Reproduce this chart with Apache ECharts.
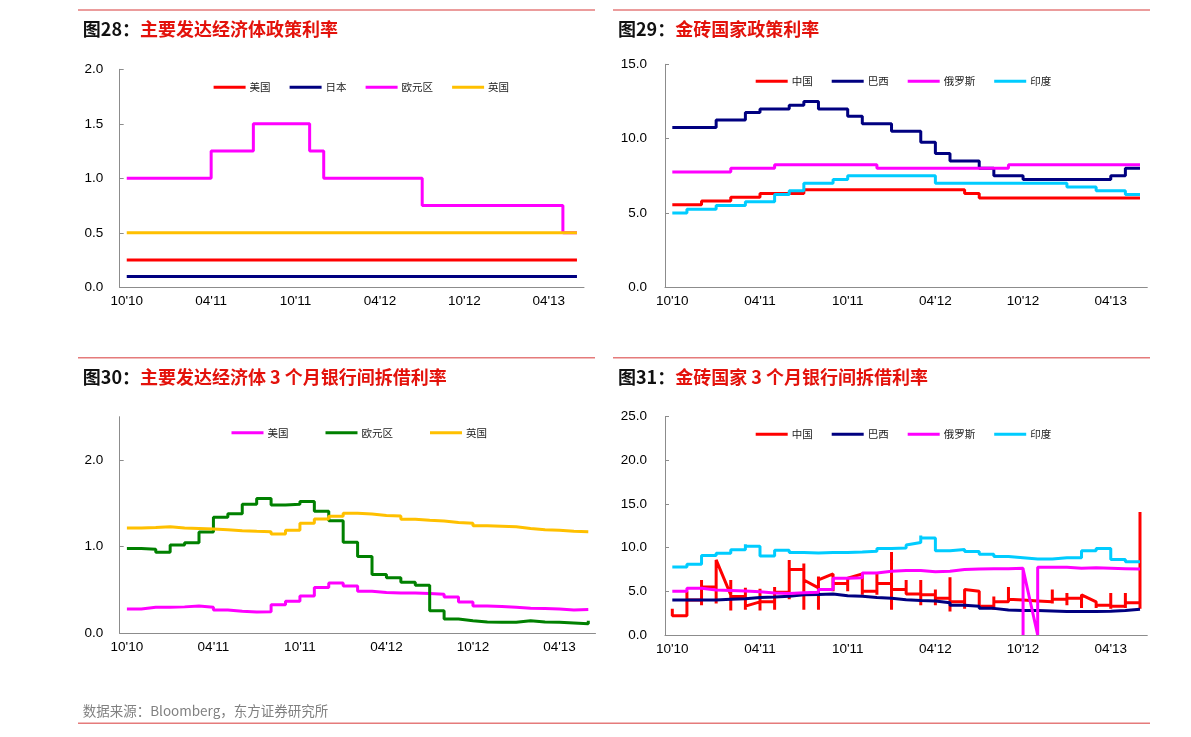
<!DOCTYPE html>
<html><head><meta charset="utf-8">
<script src="https://cdn.jsdelivr.net/npm/echarts@6/dist/echarts.min.js"></script>
<style>html,body{margin:0;padding:0;background:#fff}#c{width:1191px;height:737px}</style>
</head><body><div id="c"></div>
<script>
// month categories (Oct 2010 .. Jun 2013)
const months = ["10'10","11'10","12'10","01'11","02'11","03'11","04'11","05'11","06'11","07'11","08'11","09'11","10'11","11'11","12'11","01'12","02'12","03'12","04'12","05'12","06'12","07'12","08'12","09'12","10'12","11'12","12'12","01'13","02'13","03'13","04'13","05'13","06'13"];

// 图28 主要发达经济体政策利率
const p28_us = [0.25,0.25,0.25,0.25,0.25,0.25,0.25,0.25,0.25,0.25,0.25,0.25,0.25,0.25,0.25,0.25,0.25,0.25,0.25,0.25,0.25,0.25,0.25,0.25,0.25,0.25,0.25,0.25,0.25,0.25,0.25,0.25,0.25];
const p28_jp = [0.1,0.1,0.1,0.1,0.1,0.1,0.1,0.1,0.1,0.1,0.1,0.1,0.1,0.1,0.1,0.1,0.1,0.1,0.1,0.1,0.1,0.1,0.1,0.1,0.1,0.1,0.1,0.1,0.1,0.1,0.1,0.1,0.1];
const p28_ez = [1,1,1,1,1,1,1.25,1.25,1.25,1.5,1.5,1.5,1.5,1.25,1,1,1,1,1,1,1,0.75,0.75,0.75,0.75,0.75,0.75,0.75,0.75,0.75,0.75,0.5,0.5];
const p28_uk = [0.5,0.5,0.5,0.5,0.5,0.5,0.5,0.5,0.5,0.5,0.5,0.5,0.5,0.5,0.5,0.5,0.5,0.5,0.5,0.5,0.5,0.5,0.5,0.5,0.5,0.5,0.5,0.5,0.5,0.5,0.5,0.5,0.5];

// 图29 金砖国家政策利率
const p29_cn = [5.56,5.56,5.81,5.81,6.06,6.06,6.31,6.31,6.31,6.56,6.56,6.56,6.56,6.56,6.56,6.56,6.56,6.56,6.56,6.56,6.31,6.0,6.0,6.0,6.0,6.0,6.0,6.0,6.0,6.0,6.0,6.0,6.0];
const p29_br = [10.75,10.75,10.75,11.25,11.25,11.75,12.0,12.0,12.25,12.5,12.0,12.0,11.5,11.0,11.0,10.5,10.5,9.75,9.0,8.5,8.5,8.0,7.5,7.5,7.25,7.25,7.25,7.25,7.25,7.25,7.5,8.0,8.0];
const p29_ru = [7.75,7.75,7.75,7.75,8.0,8.0,8.0,8.25,8.25,8.25,8.25,8.25,8.25,8.25,8.0,8.0,8.0,8.0,8.0,8.0,8.0,8.0,8.0,8.25,8.25,8.25,8.25,8.25,8.25,8.25,8.25,8.25,8.25];
const p29_in = [5.0,5.25,5.25,5.5,5.5,5.75,5.75,6.25,6.5,7.0,7.0,7.25,7.5,7.5,7.5,7.5,7.5,7.5,7.0,7.0,7.0,7.0,7.0,7.0,7.0,7.0,7.0,6.75,6.75,6.5,6.5,6.25,6.25];

// 图30 主要发达经济体3个月银行间拆借利率
const p30_us = [0.28,0.30,0.30,0.305,0.315,0.30,0.27,0.255,0.245,0.25,0.33,0.37,0.43,0.53,0.58,0.545,0.485,0.47,0.465,0.465,0.46,0.45,0.42,0.36,0.315,0.31,0.30,0.29,0.285,0.28,0.27,0.275,0.275];
const p30_ez = [0.98,0.97,0.935,1.02,1.045,1.17,1.34,1.38,1.49,1.555,1.48,1.49,1.52,1.41,1.30,1.05,0.885,0.68,0.64,0.59,0.555,0.26,0.165,0.146,0.13,0.127,0.127,0.146,0.13,0.127,0.12,0.11,0.145];
const p30_uk = [1.215,1.22,1.23,1.215,1.21,1.205,1.196,1.185,1.177,1.173,1.146,1.19,1.27,1.32,1.35,1.385,1.377,1.36,1.355,1.315,1.304,1.296,1.28,1.27,1.24,1.235,1.23,1.21,1.196,1.19,1.177,1.173,1.173];

// 图31 金砖国家3个月银行间拆借利率 (a list = values met inside that month, in order)
const p31_cn = [[3.0,2.2],[2.2,5.0,4.0],[4.0,3.4,6.3,5.5],[5.5,3.6,8.6,8.4],[4.6,6.3,2.8,4.4],[4.4,5.4,2.9,3.3],[3.8,5.3,2.8,3.8],[3.8,2.9,5.5,4.9],[4.9,4.1,8.6,7.5],[7.5,8.2,2.9,6.3],[5.4,2.9,6.7,6.3],[7.0,5.0,5.9],[5.9,5.0,6.5,6.3],[7.0,4.6,5.0],[5.0,4.6,7.2,5.9],[5.9,9.5,2.9,5.2],[5.2,6.3,4.7],[4.7,6.3,3.4,4.6],[4.6,5.2,3.4,4.2],[4.2,6.6,2.7,3.8],[3.8,3.0,5.2,5.0],[5.0,3.3],[3.3,2.9,4.4,3.8],[3.8,5.5,4.1],[4.0],[3.9],[3.8,5.2,3.6,4.1],[4.1,3.4,4.8,4.2],[4.2,3.1,4.6,4.4],[3.8,3.1,3.4],[3.4,4.8,3.0,3.3],[3.3,4.8,3.1,3.7],[3.7,3.0,14.1]];
const p31_br = [4.0,4.0,4.0,4.1,4.15,4.3,4.35,4.45,4.6,4.65,4.7,4.5,4.45,4.3,4.2,4.05,3.95,3.9,3.7,3.4,3.3,3.05,2.85,2.8,2.8,2.75,2.7,2.7,2.7,2.72,2.8,2.95,2.95];
const p31_ru = [5.0,5.35,5.15,5.1,5.05,4.95,4.8,4.75,4.85,4.9,5.2,6.5,6.55,7.1,7.3,7.4,7.4,7.25,7.3,7.5,7.55,7.6,7.6,7.65,[7.65,0,7.55],[0,7.75],7.75,7.65,7.7,7.65,7.6,7.55,7.55];
const p31_in = [7.8,8.1,9.1,9.35,9.75,[9.75,10.4,10.15],9.05,9.7,9.45,9.4,9.45,9.45,9.5,9.6,9.9,9.95,[9.95,10.3],[10.6,11.4,11.1],9.65,9.8,9.55,9.25,9.0,8.85,8.7,8.7,8.85,8.85,9.65,9.9,8.65,8.4,8.4];

const CJK = '"Noto Sans CJK SC", sans-serif';
const LAT = '"Liberation Sans", Arial, sans-serif';

function build(arr){
  const pts=[]; let prev=null;
  arr.forEach((m,i)=>{
    if(Array.isArray(m)){ m.forEach(v=>pts.push([i,v])); prev=m[m.length-1]; }
    else { if(prev!==null && prev!==m) pts.push([i,prev]); pts.push([i,m]); prev=m; }
  });
  return pts;
}
function line(name, gi, data, color, step){
  return {type:'line', name, xAxisIndex:gi, yAxisIndex:gi, data, step: step?'end':false, color,
    symbol:'none', showSymbol:false, lineStyle:{width:3,color}, itemStyle:{color},
    animation:false, silent:true, z:2};
}
const axisGray = '#8c8c8c';
function xAx(gi){
  return {type:'category', gridIndex:gi, data:months, boundaryGap:true,
    axisLine:{lineStyle:{color:axisGray,width:1}},
    axisTick:{inside:true,length:4,interval:5,lineStyle:{color:axisGray}},
    axisLabel:{interval:5,margin:7,color:'#000',fontSize:13.5,fontFamily:LAT},
    splitLine:{show:false}};
}
function yAx(gi,max,interval,margin,extra){
  const o = {type:'value', gridIndex:gi, min:0, max, interval,
    axisLine:{show:true,lineStyle:{color:axisGray,width:1}},
    axisTick:{show:true,inside:true,length:4,lineStyle:{color:axisGray}},
    axisLabel:{margin,color:'#000',fontSize:13.5,fontFamily:LAT,formatter:v=>v.toFixed(1)},
    splitLine:{show:false}};
  if(extra){ Object.assign(o.axisTick, extra.tick); Object.assign(o.axisLabel, extra.label); }
  return o;
}
function legend(names, left, top, gap){
  return {data:names, left, top, padding:0, itemGap:gap, icon:'rect', itemWidth:32, itemHeight:3,
    selectedMode:false, formatter:n=>n.split('_')[1],
    textStyle:{fontSize:10.5,color:'#222',fontFamily:CJK,padding:[0,0,0,-1]}};
}
function title(num, text, left, top){
  return {text:'{a|图'+num+'：}{b|'+text+'}', left, top, padding:0,
    textStyle:{rich:{a:{fontSize:18,color:'#111',fontFamily:CJK,lineHeight:20},
                     b:{fontSize:18,color:'#E3120B',fontWeight:'bold',fontFamily:CJK,lineHeight:20}}}};
}
const sep = '#E57B7B';
const option = {
  backgroundColor:'#fff',
  animation:false,
  title:[
    title('28','主要发达经济体政策利率',82.8,19.5),
    title('29','金砖国家政策利率',617.9,19.5),
    title('30','主要发达经济体 3 个月银行间拆借利率',82.8,366.8),
    title('31','金砖国家 3 个月银行间拆借利率',617.9,366.8)
  ],
  grid:[
    {left:119.7, top:69.3, width:464.3, height:218},
    {left:665, top:64.3, width:482.3, height:223},
    {left:119.7, top:416.7, width:475.8, height:216.6},
    {left:665, top:416.7, width:482.3, height:218.3}
  ],
  xAxis:[xAx(0),xAx(1),xAx(2),xAx(3)],
  yAxis:[
    yAx(0,2,0.5,16.5),
    yAx(1,15,5,18),
    yAx(2,2.5,1,16.5,{tick:{customValues:[0,1,2]},label:{customValues:[0,1,2]}}),
    yAx(3,25,5,18)
  ],
  legend:[
    legend(['a_美国','a_日本','a_欧元区','a_英国'],213.6,82,19),
    legend(['b_中国','b_巴西','b_俄罗斯','b_印度'],755.7,76,19),
    legend(['c_美国','c_欧元区','c_英国'],231.5,427.5,37),
    legend(['d_中国','d_巴西','d_俄罗斯','d_印度'],755.7,429,19)
  ],
  series:[
    line('a_美国',0,p28_us,'#FF0000',true),
    line('a_日本',0,p28_jp,'#000080',true),
    line('a_欧元区',0,p28_ez,'#FF00FF',true),
    line('a_英国',0,p28_uk,'#FFC000',true),
    line('b_中国',1,p29_cn,'#FF0000',true),
    line('b_巴西',1,p29_br,'#000080',true),
    line('b_俄罗斯',1,p29_ru,'#FF00FF',true),
    line('b_印度',1,p29_in,'#00CCFF',true),
    line('c_美国',2,p30_us,'#FF00FF',true),
    line('c_欧元区',2,p30_ez,'#008000',true),
    line('c_英国',2,p30_uk,'#FFC000',true),
    line('d_中国',3,build(p31_cn),'#FF0000',false),
    line('d_巴西',3,build(p31_br),'#000080',false),
    line('d_俄罗斯',3,build(p31_ru),'#FF00FF',false),
    line('d_印度',3,build(p31_in),'#00CCFF',false)
  ],
  graphic:[
    {type:'line',shape:{x1:78,y1:10,x2:595,y2:10},style:{stroke:sep,lineWidth:1.5},silent:true},
    {type:'line',shape:{x1:613,y1:10,x2:1150,y2:10},style:{stroke:sep,lineWidth:1.5},silent:true},
    {type:'line',shape:{x1:78,y1:357.7,x2:595,y2:357.7},style:{stroke:sep,lineWidth:1.5},silent:true},
    {type:'line',shape:{x1:613,y1:357.7,x2:1150,y2:357.7},style:{stroke:sep,lineWidth:1.5},silent:true},
    {type:'line',shape:{x1:78,y1:723.3,x2:1150,y2:723.3},style:{stroke:sep,lineWidth:1.5},silent:true},
    {type:'text',x:82.7,y:710.5,silent:true,style:{text:'数据来源：Bloomberg，东方证券研究所',fontSize:13.5,fontFamily:CJK,fill:'#808080',align:'left',verticalAlign:'middle',textAlign:'left',textVerticalAlign:'middle'}}
  ]
};
const chart = echarts.init(document.getElementById('c'), null, {renderer:'canvas'});
chart.setOption(option);
</script>
</body></html>
